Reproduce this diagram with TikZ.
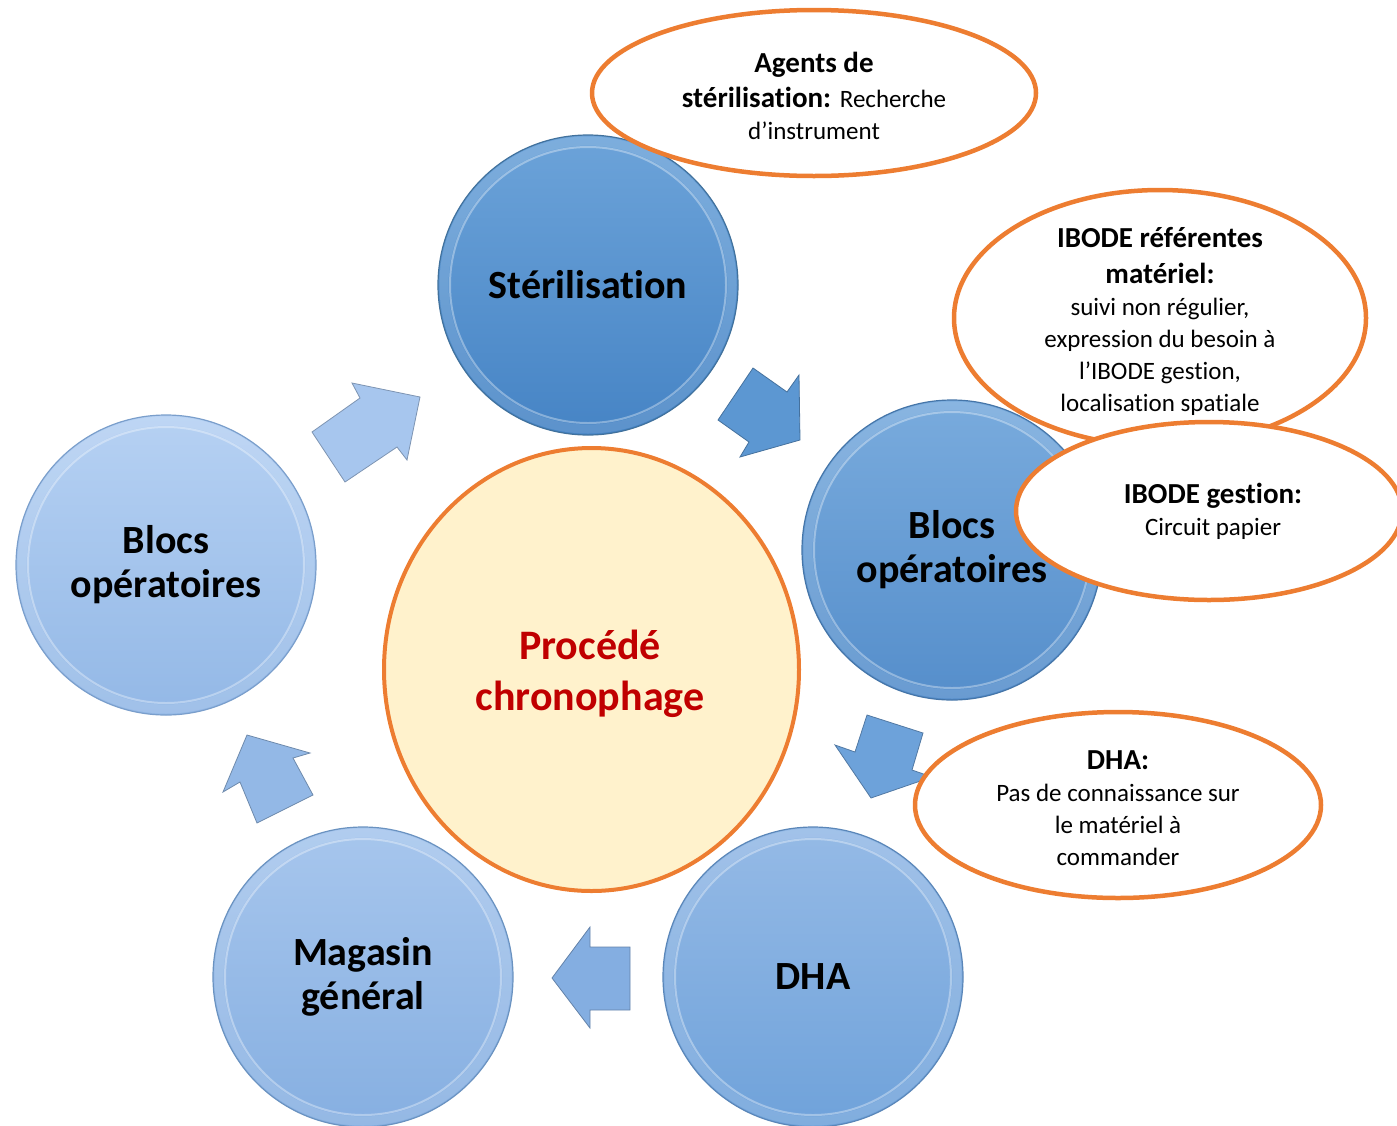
\documentclass[tikz,border=0pt]{standalone}
\usepackage{fontspec}
\setmainfont{Carlito}[Ligatures={NoCommon,NoContextual,NoRare},Contextuals=NoAlternate]
\usetikzlibrary{shapes.geometric}
\definecolor{orng}{HTML}{ED7D31}
\definecolor{cream}{HTML}{FFF2CC}
\definecolor{dred}{HTML}{C00000}
\definecolor{sterT}{HTML}{6CA3D9}\definecolor{sterB}{HTML}{4684C5}\definecolor{sterR}{HTML}{41719C}
\definecolor{brT}{HTML}{79ABDD}\definecolor{brB}{HTML}{558ECB}\definecolor{brR}{HTML}{4575A8}
\definecolor{dhaT}{HTML}{95BAE6}\definecolor{dhaB}{HTML}{6FA2DA}\definecolor{dhaR}{HTML}{5A86B8}
\definecolor{magT}{HTML}{A7C6ED}\definecolor{magB}{HTML}{86AFE1}\definecolor{magR}{HTML}{6A92C0}
\definecolor{blT}{HTML}{B6D1F3}\definecolor{blB}{HTML}{93B8E6}\definecolor{blR}{HTML}{7A9ECB}
\definecolor{arA}{HTML}{5C97D2}
\definecolor{arB}{HTML}{6DA2DA}
\definecolor{arC}{HTML}{84AEE1}
\definecolor{arD}{HTML}{93B8E6}
\definecolor{arE}{HTML}{A7C6EE}
\newcommand{\cbold}{\fontsize{29}{32}\selectfont\bfseries}
\newcommand{\creg}{\fontsize{25}{32}\selectfont\mdseries}
\newcommand{\tiq}{t\kern0pt i}
\tikzset{
  bubble/.style n args={3}{circle, minimum size=300pt, inner sep=0pt,
     top color=#1, bottom color=#2, draw=#3, line width=1.2pt,
     font=\fontsize{40}{44}\selectfont\bfseries, align=center, text=black},
  ringhi/.style={draw=white, opacity=0.35, line width=2pt},
  ringband/.style={draw=white, opacity=0.12, line width=9pt},
  blockarr/.style={fill=#1, draw=#1!75!black, line width=0.8pt, line join=miter},
  callout/.style={ellipse, draw=orng, line width=4.5pt, fill=white, inner sep=0pt},
  txt/.style={align=center, font=\creg, text=black, inner sep=0pt},
}
\begin{document}
\begin{tikzpicture}[x=1pt,y=-1pt]
\useasboundingbox (0,0) rectangle (1397,1125);

% outer circles
\node[bubble={sterT}{sterB}{sterR}] (ster) at (588,285) {Stérilisa\tiq on};
\node[bubble={brT}{brB}{brR}] (blocsR) at (952,550) {Blocs\\opératoires};
\node[bubble={dhaT}{dhaB}{dhaR}] (dha) at (813,977) {DHA};
\node[bubble={magT}{magB}{magR}] (mag) at (363,977) {Magasin\\général};
\node[bubble={blT}{blB}{blR}] (blocsL) at (166,565) {Blocs\\opératoires};
\foreach \c in {ster,blocsR,dha,mag,blocsL}{
  \draw[ringband] (\c.center) circle[radius=144pt];
  \draw[ringhi] (\c.center) circle[radius=138pt];
}

% block arrows
\draw[blockarr=arA] (753,368) -- (787,392) -- (799,375) -- (800,440) -- (740,457) -- (749,442) -- (718,420) -- cycle;
\draw[blockarr=arB] (867,715) -- (923,733) -- (912,770) -- (932,777) -- (871,798) -- (835,745) -- (855,752) -- cycle;
\draw[blockarr=arC] (552,978) -- (590,927) -- (590,947) -- (630,947) -- (630,1010) -- (590,1010) -- (590,1028) -- cycle;
\draw[blockarr=arD] (247,735) -- (310,753) -- (293,758) -- (313,795) -- (257,823) -- (240,782) -- (223,792) -- cycle;
\draw[blockarr=arE] (420,397) -- (407,460) -- (397,447) -- (345,482) -- (312,432) -- (360,398) -- (352,383) -- cycle;

% centre
\node[ellipse, minimum width=415pt, minimum height=443pt, inner sep=0pt, fill=cream, draw=orng, line width=4pt] (proc) at (591.5,669.5) {};
\node[font=\fontsize{42}{51}\selectfont\bfseries, text=dred, align=center, inner sep=0pt] (proct) at (590,674) {Procédé\\chronophage};

% callouts
\node[callout, minimum width=444pt, minimum height=166pt] (e1) at (814,93) {};
\node[txt] (t1) at (814,96) {\cbold Agents de\\[3pt] \cbold stérilisa\tiq on: \creg Recherche\\ \creg d’instrument};

\node[callout, minimum width=412pt, minimum height=256pt] (e2) at (1160,318) {};
\node[txt] (t2) at (1160,321) {\cbold IBODE référentes\\[4pt] \cbold matériel:\\ \creg suivi non régulier,\\ \creg expression du besoin à\\ \creg l’IBODE ges\tiq on,\\ \creg localisa\tiq on spa\tiq ale};

\node[callout, minimum width=386pt, minimum height=178pt] (e3) at (1209,511) {};
\node[txt] (t3) at (1213,511) {\cbold IBODE ges\tiq on:\\ \creg Circuit papier};

\node[callout, minimum width=406pt, minimum height=186pt] (e4) at (1118,805) {};
\node[txt] (t4) at (1118,808) {\cbold DHA:\\ \creg Pas de connaissance sur\\ \creg le matériel à\\ \creg commander};
\end{tikzpicture}
\end{document}
